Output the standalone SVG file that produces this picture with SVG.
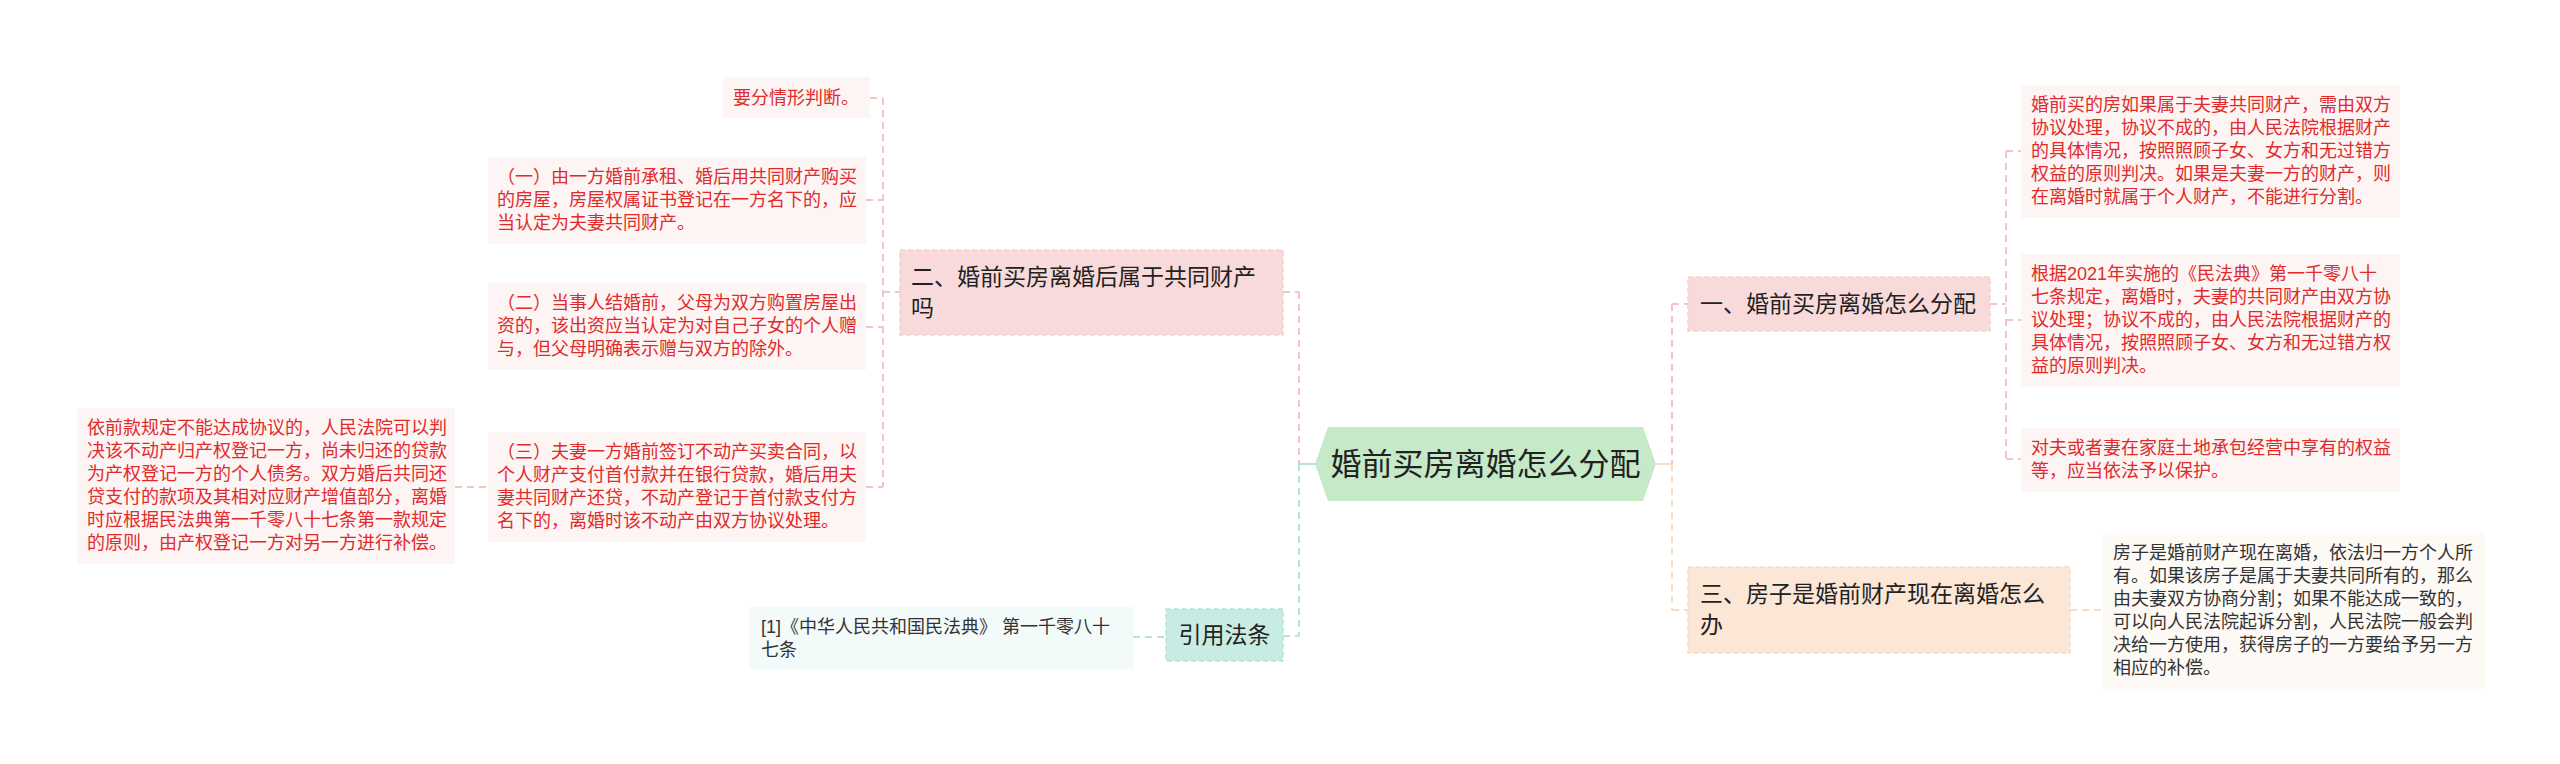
<svg xmlns="http://www.w3.org/2000/svg" width="2560" height="764" viewBox="0 0 2560 764">
<style>
text{font-family:"Liberation Sans","Noto Sans CJK SC",sans-serif;}
.red{fill:#e02b2b;font-size:18px;}
.dark{fill:#333;font-size:18px;}
.l1{fill:#222;font-size:23px;}
.root{fill:#222;font-size:31px;}
.rbox{fill:#fdf4f4;}
.bbox{fill:#fdf9f5;}
.tbox{fill:#f3fafa;}
.pinkN{fill:#f9dada;stroke:#f5cfcf;stroke-width:1.5;stroke-dasharray:5,3;}
.peachN{fill:#fce6d6;stroke:#f8dcc6;stroke-width:1.5;stroke-dasharray:5,3;}
.tealN{fill:#c8ebe4;stroke:#b8e1d9;stroke-width:1.5;stroke-dasharray:5,3;}
.cp{stroke:#f3c5ca;stroke-width:2;fill:none;stroke-dasharray:7,5;}
.ct{stroke:#b9e2dc;stroke-width:2;fill:none;stroke-dasharray:7,5;}
.co{stroke:#f9dcc4;stroke-width:2;fill:none;stroke-dasharray:7,5;}
</style>
<rect width="2560" height="764" fill="#ffffff"/>
<g id="connectors">
  <line class="ct" x1="1299" y1="464" x2="1315" y2="464" style="stroke-dasharray:none"/>
  <line class="cp" x1="1299" y1="292" x2="1299" y2="464"/>
  <line class="ct" x1="1299" y1="464" x2="1299" y2="636"/>
  <line class="cp" x1="1283" y1="292" x2="1299" y2="292"/>
  <line class="ct" x1="1283" y1="636" x2="1299" y2="636"/>
  <line class="co" x1="1656" y1="464" x2="1672" y2="464" style="stroke-dasharray:none"/>
  <line class="cp" x1="1672" y1="304" x2="1672" y2="464"/>
  <line class="co" x1="1672" y1="464" x2="1672" y2="610"/>
  <line class="cp" x1="1672" y1="304" x2="1688" y2="304"/>
  <line class="co" x1="1672" y1="610" x2="1688" y2="610"/>
  <line class="cp" x1="883" y1="292" x2="900" y2="292"/>
  <line class="cp" x1="883" y1="98" x2="883" y2="487"/>
  <line class="cp" x1="870" y1="98" x2="883" y2="98"/>
  <line class="cp" x1="866" y1="200" x2="883" y2="200"/>
  <line class="cp" x1="866" y1="327" x2="883" y2="327"/>
  <line class="cp" x1="866" y1="487" x2="883" y2="487"/>
  <line class="cp" x1="455" y1="487" x2="488" y2="487"/>
  <line class="cp" x1="1990" y1="304" x2="2006" y2="304"/>
  <line class="cp" x1="2006" y1="151" x2="2006" y2="459"/>
  <line class="cp" x1="2006" y1="151" x2="2021" y2="151"/>
  <line class="cp" x1="2006" y1="320" x2="2021" y2="320"/>
  <line class="cp" x1="2006" y1="459" x2="2021" y2="459"/>
  <line class="co" x1="2070" y1="610" x2="2103" y2="610"/>
  <line class="ct" x1="1133" y1="637" x2="1166" y2="637"/>
</g>
<g id="root">
  <polygon points="1315,464 1328,427 1643,427 1656,464 1643,501 1328,501" fill="#c6e9c8"/>
  <text class="root" x="1485.5" y="475" text-anchor="middle">婚前买房离婚怎么分配</text>
</g>
<g id="n2">
  <rect class="pinkN" x="900" y="250" width="383" height="85"/>
  <text class="l1"><tspan x="911" y="285">二、婚前买房离婚后属于共同财产</tspan><tspan x="911" y="316">吗</tspan></text>
</g>
<g id="n2a">
  <rect class="rbox" x="723" y="77" width="147" height="41"/>
  <text class="red" x="733" y="104">要分情形判断。</text>
</g>
<g id="n2b">
  <rect class="rbox" x="488" y="157" width="378" height="87"/>
  <text class="red"><tspan x="497" y="183">（一）由一方婚前承租、婚后用共同财产购买</tspan><tspan x="497" y="206">的房屋，房屋权属证书登记在一方名下的，应</tspan><tspan x="497" y="229">当认定为夫妻共同财产。</tspan></text>
</g>
<g id="n2c">
  <rect class="rbox" x="488" y="283" width="378" height="87"/>
  <text class="red"><tspan x="497" y="309">（二）当事人结婚前，父母为双方购置房屋出</tspan><tspan x="497" y="332">资的，该出资应当认定为对自己子女的个人赠</tspan><tspan x="497" y="355">与，但父母明确表示赠与双方的除外。</tspan></text>
</g>
<g id="n2d">
  <rect class="rbox" x="488" y="432" width="378" height="110"/>
  <text class="red"><tspan x="497" y="458">（三）夫妻一方婚前签订不动产买卖合同，以</tspan><tspan x="497" y="481">个人财产支付首付款并在银行贷款，婚后用夫</tspan><tspan x="497" y="504">妻共同财产还贷，不动产登记于首付款支付方</tspan><tspan x="497" y="527">名下的，离婚时该不动产由双方协议处理。</tspan></text>
</g>
<g id="n2d1">
  <rect class="rbox" x="77" y="408" width="378" height="156"/>
  <text class="red"><tspan x="87" y="434">依前款规定不能达成协议的，人民法院可以判</tspan><tspan x="87" y="457">决该不动产归产权登记一方，尚未归还的贷款</tspan><tspan x="87" y="480">为产权登记一方的个人债务。双方婚后共同还</tspan><tspan x="87" y="503">贷支付的款项及其相对应财产增值部分，离婚</tspan><tspan x="87" y="526">时应根据民法典第一千零八十七条第一款规定</tspan><tspan x="87" y="549">的原则，由产权登记一方对另一方进行补偿。</tspan></text>
</g>
<g id="ref">
  <rect class="tealN" x="1166" y="609" width="117" height="52"/>
  <text class="l1" x="1224.5" y="643" text-anchor="middle">引用法条</text>
</g>
<g id="ref1">
  <rect class="tbox" x="749" y="607" width="384" height="62"/>
  <text class="dark"><tspan x="761" y="633">[1]《中华人民共和国民法典》 第一千零八十</tspan><tspan x="761" y="656">七条</tspan></text>
</g>
<g id="n1">
  <rect class="pinkN" x="1688" y="277" width="302" height="54"/>
  <text class="l1" x="1700" y="312">一、婚前买房离婚怎么分配</text>
</g>
<g id="n1a">
  <rect class="rbox" x="2021" y="85" width="379" height="133"/>
  <text class="red"><tspan x="2031" y="111">婚前买的房如果属于夫妻共同财产，需由双方</tspan><tspan x="2031" y="134">协议处理，协议不成的，由人民法院根据财产</tspan><tspan x="2031" y="157">的具体情况，按照照顾子女、女方和无过错方</tspan><tspan x="2031" y="180">权益的原则判决。如果是夫妻一方的财产，则</tspan><tspan x="2031" y="203">在离婚时就属于个人财产，不能进行分割。</tspan></text>
</g>
<g id="n1b">
  <rect class="rbox" x="2021" y="254" width="379" height="133"/>
  <text class="red"><tspan x="2031" y="280">根据2021年实施的《民法典》第一千零八十</tspan><tspan x="2031" y="303">七条规定，离婚时，夫妻的共同财产由双方协</tspan><tspan x="2031" y="326">议处理；协议不成的，由人民法院根据财产的</tspan><tspan x="2031" y="349">具体情况，按照照顾子女、女方和无过错方权</tspan><tspan x="2031" y="372">益的原则判决。</tspan></text>
</g>
<g id="n1c">
  <rect class="rbox" x="2021" y="428" width="379" height="64"/>
  <text class="red"><tspan x="2031" y="454">对夫或者妻在家庭土地承包经营中享有的权益</tspan><tspan x="2031" y="477">等，应当依法予以保护。</tspan></text>
</g>
<g id="n3">
  <rect class="peachN" x="1688" y="567" width="382" height="86"/>
  <text class="l1"><tspan x="1700" y="602">三、房子是婚前财产现在离婚怎么</tspan><tspan x="1700" y="633">办</tspan></text>
</g>
<g id="n3a">
  <rect class="bbox" x="2103" y="533" width="382" height="156"/>
  <text class="dark"><tspan x="2113" y="559">房子是婚前财产现在离婚，依法归一方个人所</tspan><tspan x="2113" y="582">有。如果该房子是属于夫妻共同所有的，那么</tspan><tspan x="2113" y="605">由夫妻双方协商分割；如果不能达成一致的，</tspan><tspan x="2113" y="628">可以向人民法院起诉分割，人民法院一般会判</tspan><tspan x="2113" y="651">决给一方使用，获得房子的一方要给予另一方</tspan><tspan x="2113" y="674">相应的补偿。</tspan></text>
</g>
</svg>
